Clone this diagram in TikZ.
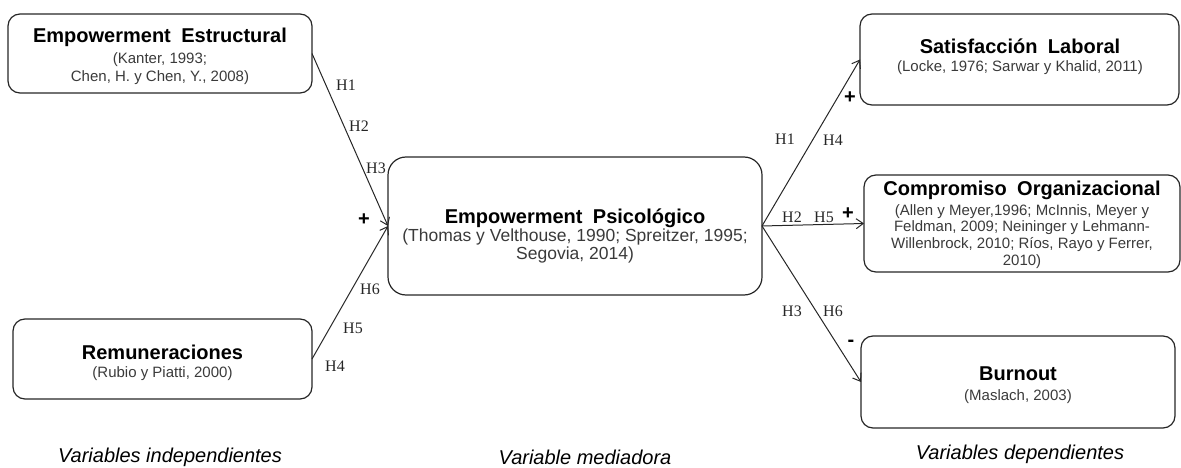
\documentclass[tikz,border=0pt]{standalone}
\usepackage{fontspec}
\setmainfont{Liberation Serif}
\newfontfamily\arialfont{Liberation Sans}
\usetikzlibrary{arrows.meta}
\definecolor{ink}{HTML}{262626}
\definecolor{citegray}{HTML}{3A3A3A}
\newcommand\ttl[1]{{\fontsize{20}{22}\selectfont\bfseries\color{black}#1}}
\newcommand\wsp{\hspace{0.52em}}
\tikzset{
  varbox/.style={draw=ink, line width=1.2pt, rounded corners=12pt, inner sep=0pt, outer sep=0pt},
  % text blocks are anchored at the baseline of their last line
  boxtext/.style={anchor=base, align=center, inner sep=0pt, text=citegray,
    font=\arialfont\fontsize{15}{18}\selectfont},
  link/.style={draw=ink, line width=1pt, -{Straight Barb[length=7pt,width=10pt,line width=1pt]}},
  hyp/.style={inner sep=0pt, text=ink, font=\fontsize{16}{16}\selectfont},
  sign/.style={inner sep=0pt, text=black, font=\arialfont\bfseries\fontsize{20}{20}\selectfont},
  colhead/.style={anchor=base, inner sep=0pt, text=black, font=\arialfont\itshape\fontsize{20}{20}\selectfont}
}
\begin{document}
\begin{tikzpicture}[x=1pt,y=-1pt]
\useasboundingbox (0,0) rectangle (1181,468);

% independent variables
\node[varbox, minimum width=304pt, minimum height=79pt] (es) at (160,53.5) {};
\node[boxtext] (es-t) at (160,82) {\ttl{Empowerment\wsp Estructural}\\[3pt](Kanter, 1993;\\Chen, H. y Chen, Y., 2008)};

\node[varbox, minimum width=299pt, minimum height=80pt] (rem) at (162.5,359) {};
\node[boxtext] (rem-t) at (162.5,377) {\ttl{Remuneraciones}\\(Rubio y Piatti, 2000)};

% mediating variable
\node[varbox, rounded corners=18pt, minimum width=374pt, minimum height=138pt] (ep) at (575,226) {};
\node[boxtext, font=\arialfont\fontsize{17.5}{18}\selectfont] (ep-t) at (575,259)
  {\ttl{Empowerment\wsp Psicológico}\\(Thomas y Velthouse, 1990; Spreitzer, 1995;\\Segovia, 2014)};

% dependent variables
\node[varbox, minimum width=319pt, minimum height=91pt] (sl) at (1019.5,59.5) {};
\node[boxtext] (sl-t) at (1020,72) {\ttl{Satisfacción\wsp Laboral}\\(Locke, 1976; Sarwar y Khalid, 2011)};

\node[varbox, minimum width=316pt, minimum height=97pt] (co) at (1022,223.5) {};
\node[boxtext, font=\arialfont\fontsize{15}{16.6}\selectfont] (co-t) at (1022,265)
  {\ttl{Compromiso\wsp Organizacional}\\[3.4pt](Allen y Meyer,1996; McInnis, Meyer y\\Feldman, 2009; Neininger y Lehmann-\\Willenbrock, 2010; Ríos, Rayo y Ferrer,\\2010)};

\node[varbox, minimum width=314pt, minimum height=92pt] (bo) at (1018,382) {};
\node[boxtext] (bo-t) at (1018,400) {\ttl{Burnout}\\[2pt](Maslach, 2003)};

% hypothesised paths
\draw[link] (es.east) -- (ep.west);
\draw[link] (rem.east) -- (ep.west);
\draw[link] (ep.east) -- (sl.west);
\draw[link] (ep.east) -- (co.west);
\draw[link] (ep.east) -- (bo.west);

% path labels, left side
\node[hyp] (l-h1) at (346,85) {H1};
\node[hyp] (l-h2) at (359,126) {H2};
\node[hyp] (l-h3) at (376,168) {H3};
\node[sign] (l-plus) at (364,220) {+};
\node[hyp] (l-h6) at (370,289) {H6};
\node[hyp] (l-h5) at (353,328) {H5};
\node[hyp] (l-h4) at (335,366) {H4};

% path labels, right side
\node[hyp] (r-h1) at (785,139) {H1};
\node[hyp] (r-h4) at (833,140) {H4};
\node[sign] (r-plus1) at (850,98) {+};
\node[hyp] (r-h2) at (792,217) {H2};
\node[hyp] (r-h5) at (824,217) {H5};
\node[sign] (r-plus2) at (848,214) {+};
\node[hyp] (r-h3) at (792,311) {H3};
\node[hyp] (r-h6) at (833,311) {H6};
\node[sign] (r-minus) at (851,343) {-};

% column headings
\node[colhead] (c-ind) at (170,462) {Variables independientes};
\node[colhead] (c-med) at (585,464) {Variable mediadora};
\node[colhead] (c-dep) at (1020,459) {Variables dependientes};
\end{tikzpicture}
\end{document}
